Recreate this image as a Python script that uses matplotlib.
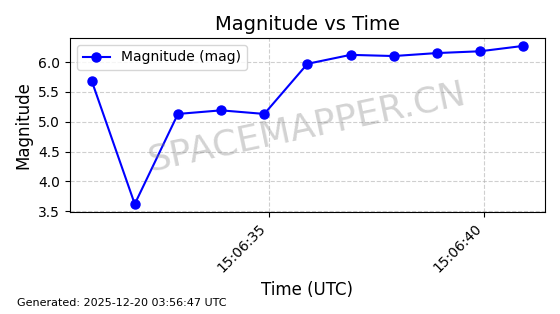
import matplotlib
matplotlib.use("Agg")
import matplotlib.pyplot as plt
import matplotlib.dates as mdates
import pandas as pd

times = ["15:06:30.9", "15:06:31.9", "15:06:32.9", "15:06:33.9", "15:06:34.9",
         "15:06:35.9", "15:06:36.9", "15:06:37.9", "15:06:38.9", "15:06:39.9",
         "15:06:40.9"]
magnitudes = [5.69, 3.62, 5.13, 5.19, 5.13, 5.97, 6.12, 6.10, 6.15, 6.18, 6.27]

t = pd.to_datetime(["2025-12-20 " + s for s in times])

fig = plt.figure(figsize=(5.6, 3.14), dpi=100)
ax = fig.add_axes([0.125, 0.325, 0.848, 0.554])
ax.plot(t, magnitudes, color="blue", marker="o", markersize=6.5, linewidth=1.5,
        label="Magnitude (mag)")
ax.set_title("Magnitude vs Time", fontsize=14)
ax.set_xlabel("Time (UTC)", fontsize=12)
ax.set_ylabel("Magnitude", fontsize=12)
ax.xaxis.set_major_locator(mdates.SecondLocator(bysecond=range(0, 60, 5)))
ax.xaxis.set_major_formatter(mdates.DateFormatter("%H:%M:%S"))
ax.set_yticks([3.5, 4.0, 4.5, 5.0, 5.5, 6.0])
ax.tick_params(labelsize=10)
plt.setp(ax.get_xticklabels(), rotation=45, ha="right")
ax.grid(True, linestyle="--", color="#b0b0b0", alpha=0.6, linewidth=0.8)
ax.legend(loc="upper left", fontsize=10)
ax.text(0.5, 0.49, "SPACEMAPPER.CN", transform=ax.transAxes, fontsize=26,
        color="gray", alpha=0.35, rotation=12, ha="center", va="center")
fig.text(0.03, 0.025, "Generated: 2025-12-20 03:56:47 UTC", fontsize=8)
fig.savefig("out.png", dpi=100)
